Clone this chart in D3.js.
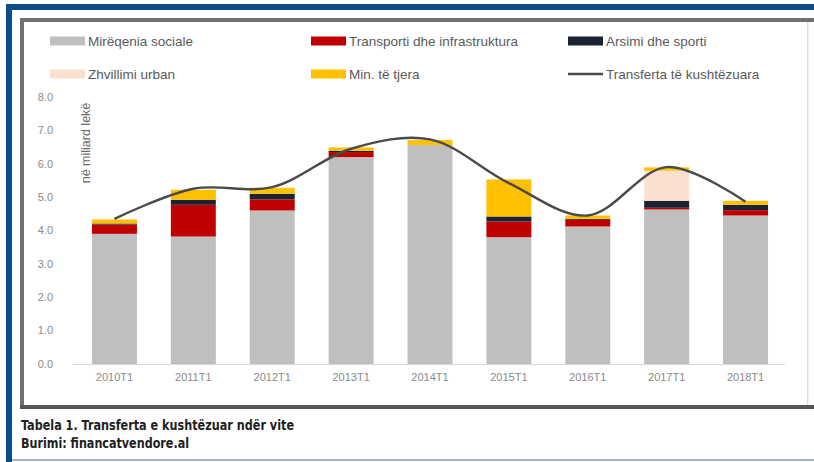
<!DOCTYPE html>
<html>
<head>
<meta charset="utf-8">
<script src="https://cdn.jsdelivr.net/npm/d3@7"></script>
<style>
  html, body { margin: 0; padding: 0; background: #ffffff; }
  svg { display: block; }
</style>
</head>
<body>
<svg id="chart" width="814" height="462"></svg>
<script>
// ---- Data ----
const categories = ["2010T1","2011T1","2012T1","2013T1","2014T1","2015T1","2016T1","2017T1","2018T1"];
const mireqenia  = [3.90, 3.82, 4.60, 6.20, 6.56, 3.80, 4.12, 4.63, 4.45];
const transporti = [0.28, 0.95, 0.33, 0.15, 0.00, 0.47, 0.20, 0.05, 0.16];
const arsimi     = [0.03, 0.15, 0.17, 0.04, 0.00, 0.15, 0.03, 0.21, 0.16];
const urban      = [0.00, 0.00, 0.00, 0.00, 0.00, 0.00, 0.00, 0.90, 0.00];
const tjera      = [0.12, 0.30, 0.18, 0.10, 0.15, 1.11, 0.10, 0.10, 0.12];
const transferta = [4.35, 5.25, 5.30, 6.45, 6.73, 5.42, 4.45, 5.90, 4.86];
const yTicks = [0, 1, 2, 3, 4, 5, 6, 7, 8];

const seriesNames = ["Mirëqenia sociale","Transporti dhe infrastruktura","Arsimi dhe sporti","Zhvillimi urban","Min. të tjera"];
const lineName = "Transferta të kushtëzuara";
const seriesData = [mireqenia, transporti, arsimi, urban, tjera];
const colors = ["#bfbfbf","#c00000","#1b2231","#fbe0d2","#ffc000"];

const svg = d3.select("#chart");

// ---- Page frame ----
svg.append("rect").attr("x",0).attr("y",0).attr("width",814).attr("height",462).attr("fill","#ffffff");
svg.append("rect").attr("x",6).attr("y",4).attr("width",808).attr("height",6).attr("fill","#0b4b8c");
svg.append("rect").attr("x",6).attr("y",4).attr("width",6).attr("height",458).attr("fill","#0b4b8c");
svg.append("rect").attr("x",12).attr("y",459).attr("width",802).attr("height",2).attr("fill","#9fb3c8");

svg.append("rect").attr("x",21).attr("y",19).attr("width",793).attr("height",388).attr("fill","#ffffff");
svg.append("rect").attr("x",20).attr("y",18).attr("width",794).attr("height",4).attr("fill","#6f6f6f");
svg.append("rect").attr("x",20).attr("y",18).attr("width",4).attr("height",391).attr("fill","#707070");
svg.append("rect").attr("x",20).attr("y",405).attr("width",794).attr("height",4).attr("fill","#555555");
svg.append("rect").attr("x",807).attr("y",22).attr("width",1.5).attr("height",383).attr("fill","#dcdcdc");

// ---- Scales ----
const x = d3.scaleBand().domain(categories).range([75, 785]).paddingInner(0.43).paddingOuter(0.215);
const y = d3.scaleLinear().domain([0, 8]).range([364, 97]);

const table = categories.map((c, i) => {
  const o = { cat: c };
  seriesNames.forEach((s, k) => { o[s] = seriesData[k][i]; });
  return o;
});
const stacked = d3.stack().keys(seriesNames)(table);

const g = svg.append("g");
g.selectAll("g.series").data(stacked).join("g")
  .attr("class","series")
  .attr("fill", (d, i) => colors[i])
  .selectAll("rect").data(d => d).join("rect")
  .attr("x", d => x(d.data.cat))
  .attr("width", x.bandwidth())
  .attr("y", d => y(d[1]))
  .attr("height", d => Math.max(0, y(d[0]) - y(d[1])));

svg.append("line").attr("x1",73).attr("x2",785).attr("y1",y(0)+0.5).attr("y2",y(0)+0.5)
  .attr("stroke","#d9d9d9").attr("stroke-width",1.2);

svg.append("g").selectAll("text").data(yTicks).join("text")
  .attr("x", 53).attr("y", d => y(d)).attr("dy","0.35em")
  .attr("text-anchor","end")
  .attr("font-family","Liberation Sans, Arial, sans-serif").attr("font-size",11)
  .attr("fill","#8a8a8a")
  .text(d => d3.format(".1f")(d));

const xAxis = d3.axisBottom(x).tickSize(0).tickPadding(0);
const xg = svg.append("g").attr("transform",`translate(0,${y(0)})`).call(xAxis);
xg.select(".domain").remove();
xg.selectAll("text").attr("y", 17).attr("dy","0")
  .attr("font-family","Liberation Sans, Arial, sans-serif").attr("font-size",11)
  .attr("fill","#8a8a8a");

svg.append("text")
  .attr("transform","translate(90,143) rotate(-90)")
  .attr("text-anchor","middle")
  .attr("font-family","Liberation Sans, Arial, sans-serif").attr("font-size",12.5)
  .attr("fill","#6a6a6a")
  .text("në miliard lekë");

const line = d3.line()
  .x((d, i) => x(categories[i]) + x.bandwidth()/2)
  .y(d => y(d))
  .curve(d3.curveCatmullRom.alpha(0.5));
svg.append("path").datum(transferta)
  .attr("d", line).attr("fill","none")
  .attr("stroke","#4a4a4a").attr("stroke-width",2.4);

const legendItems = [
  {name: seriesNames[0], color: colors[0], type: "rect", x: 50, y: 41},
  {name: seriesNames[1], color: colors[1], type: "rect", x: 311, y: 41},
  {name: seriesNames[2], color: colors[2], type: "rect", x: 568, y: 41},
  {name: seriesNames[3], color: colors[3], type: "rect", x: 50, y: 74},
  {name: seriesNames[4], color: colors[4], type: "rect", x: 311, y: 74},
  {name: lineName, color: "#4a4a4a", type: "line", x: 568, y: 74}
];
const lg = svg.append("g").selectAll("g").data(legendItems).join("g")
  .attr("transform", d => `translate(${d.x},${d.y})`);
lg.filter(d => d.type === "rect").append("rect")
  .attr("x",0).attr("y",-4.5).attr("width",35).attr("height",9).attr("fill", d => d.color);
lg.filter(d => d.type === "line").append("line")
  .attr("x1",0).attr("x2",35).attr("y1",0).attr("y2",0)
  .attr("stroke", d => d.color).attr("stroke-width",2.4);
lg.append("text").attr("x",38).attr("y",0).attr("dy","0.35em")
  .attr("font-family","Liberation Sans, Arial, sans-serif").attr("font-size",13.5)
  .attr("fill","#5a5a5a")
  .text(d => d.name);

svg.append("text").attr("x",21).attr("y",430)
  .attr("font-family","Liberation Sans Narrow, DejaVu Sans Condensed, Arial Narrow, sans-serif")
  .attr("font-weight","bold").attr("font-size",13.5).attr("fill","#1e1e1e")
  .attr("textLength",273).attr("lengthAdjust","spacingAndGlyphs")
  .text("Tabela 1. Transferta e kushtëzuar ndër vite");
svg.append("text").attr("x",21).attr("y",448)
  .attr("font-family","Liberation Sans Narrow, DejaVu Sans Condensed, Arial Narrow, sans-serif")
  .attr("font-weight","bold").attr("font-size",13.5).attr("fill","#1e1e1e")
  .attr("textLength",168).attr("lengthAdjust","spacingAndGlyphs")
  .text("Burimi: financatvendore.al");
</script>
</body>
</html>
